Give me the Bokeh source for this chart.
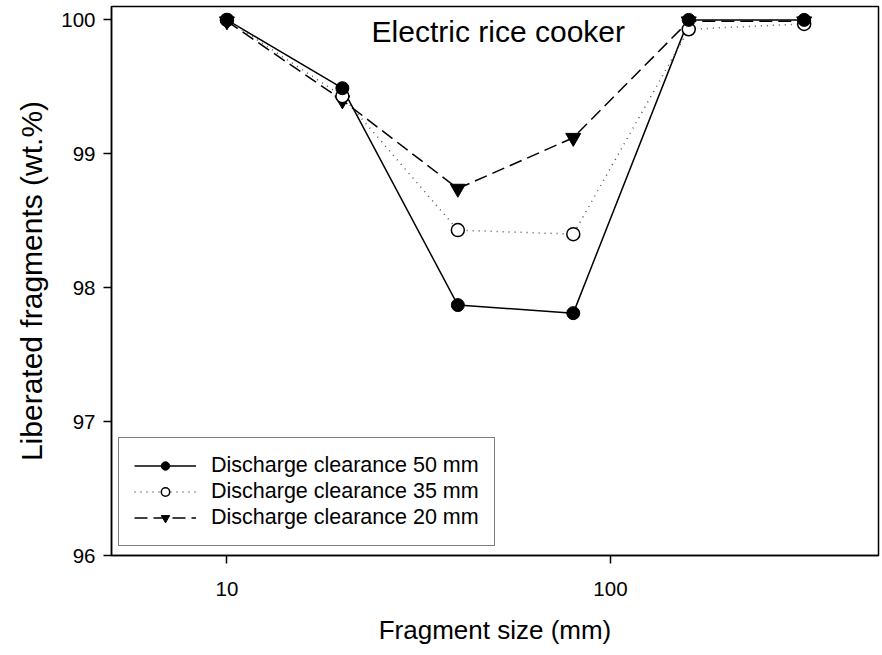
from bokeh.plotting import figure
from bokeh.models import Legend, LegendItem, FixedTicker, Label, Range1d, PrintfTickFormatter, ColumnDataSource
from bokeh.embed import file_html
from bokeh.resources import INLINE

# Fragment size classes (mm) and liberated fraction (wt.%) per discharge clearance
fragment_size = [10, 20, 40, 80, 160, 320]
clearance_50 = [100.0, 99.49, 97.87, 97.81, 100.0, 100.0]
clearance_35 = [100.0, 99.43, 98.43, 98.40, 99.93, 99.97]
clearance_20 = [99.99, 99.40, 98.74, 99.12, 99.99, 99.99]

series_labels = ["Discharge clearance 50 mm", "Discharge clearance 35 mm", "Discharge clearance 20 mm"]
x_ticks = [10, 100]
y_ticks = [96, 97, 98, 99, 100]

FONT = "Liberation Sans"

p = figure(
    frame_width=767, frame_height=549,
    min_border_left=111, min_border_right=4, min_border_top=6, min_border_bottom=100,
    x_axis_type="log", x_range=Range1d(5, 500), y_range=Range1d(96, 100.1),
    output_backend="svg", toolbar_location=None,
    x_axis_label="Fragment size (mm)", y_axis_label="Liberated fragments (wt.%)",
)
p.background_fill_color = "white"
p.border_fill_color = "white"
p.outline_line_color = "black"
p.outline_line_width = 1.5
p.xgrid.visible = False
p.ygrid.visible = False

for ax in (p.xaxis[0], p.yaxis[0]):
    ax.axis_line_width = 1.5
    ax.major_tick_line_width = 1.5
    ax.major_tick_in = 0
    ax.major_tick_out = 8
    ax.minor_tick_line_color = None
    ax.major_label_text_font = FONT
    ax.major_label_text_font_size = "20.5px"
    ax.major_label_text_color = "black"
    ax.axis_label_text_font = FONT
    ax.axis_label_text_font_style = "normal"
    ax.axis_label_text_color = "black"

p.xaxis.ticker = FixedTicker(ticks=x_ticks, minor_ticks=[])
p.xaxis.formatter = PrintfTickFormatter(format="%d")
p.xaxis.major_label_standoff = 18
p.xaxis.axis_label_standoff = 16
p.xaxis.axis_label_text_font_size = "26px"

p.yaxis.ticker = FixedTicker(ticks=y_ticks, minor_ticks=[])
p.yaxis.major_label_standoff = 8
p.yaxis.axis_label_standoff = 10
p.yaxis.axis_label_text_font_size = "30px"

src = ColumnDataSource(dict(x=fragment_size, c50=clearance_50, c35=clearance_35, c20=clearance_20))

l50 = p.line("x", "c50", source=src, line_color="black", line_width=1.5)
l35 = p.line("x", "c35", source=src, line_color="#555555", line_width=1.5, line_dash="1 5")
l20 = p.line("x", "c20", source=src, line_color="black", line_width=1.5, line_dash="13 6")

s20 = p.scatter("x", "c20", source=src, marker="inverted_triangle", size=15,
                fill_color="black", line_color="black")
s35 = p.scatter("x", "c35", source=src, marker="circle", size=13,
                fill_color="white", line_color="black", line_width=1.5)
s50 = p.scatter("x", "c50", source=src, marker="circle", size=13,
                fill_color="black", line_color="black")

legend = Legend(
    items=[
        LegendItem(label=series_labels[0], renderers=[l50, s50]),
        LegendItem(label=series_labels[1], renderers=[l35, s35]),
        LegendItem(label=series_labels[2], renderers=[l20, s20]),
    ],
    location=(7, 9),
    glyph_width=62, glyph_height=21, label_height=21, label_standoff=15, spacing=1, padding=15,
    border_line_color="black", border_line_width=1.5, background_fill_alpha=1.0,
    label_text_font=FONT, label_text_font_size="21.5px", label_text_color="black", margin=0,
)
p.add_layout(legend)

p.add_layout(Label(x=51, y=99.91, text="Electric rice cooker", text_align="center",
                   text_baseline="middle", text_font=FONT, text_font_size="30px",
                   text_color="black"))

open("out.html", "w").write(file_html(p, INLINE))
